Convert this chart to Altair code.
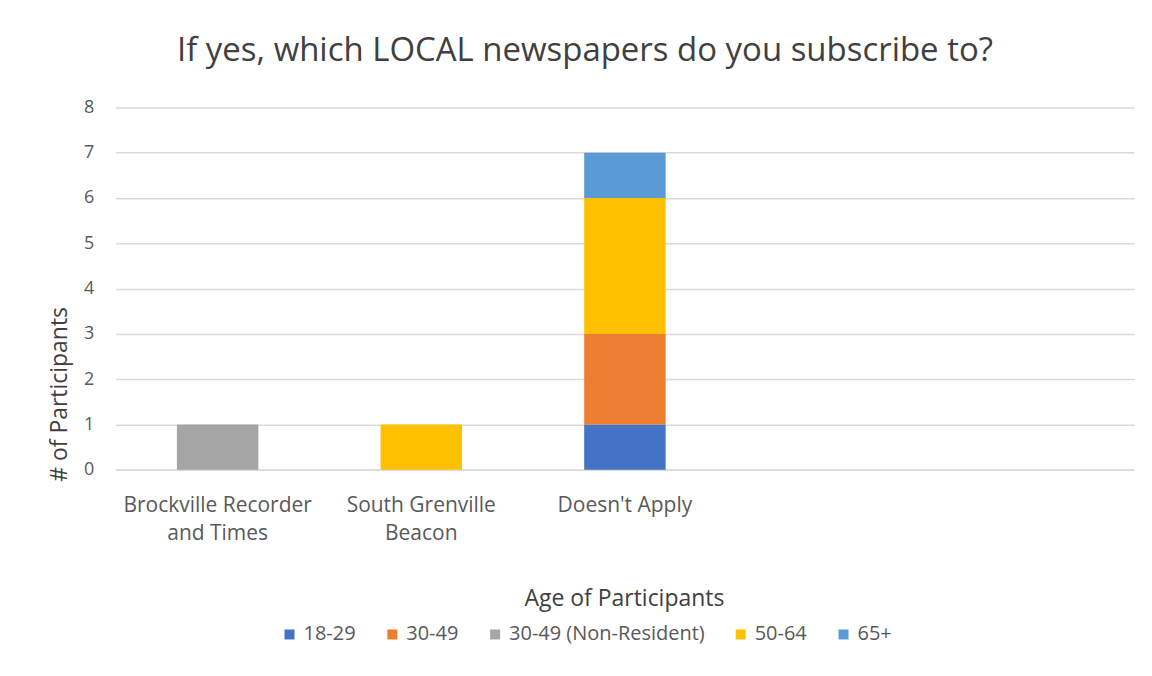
import json
import altair as alt
import pandas as pd

# ---- data ----
categories = ["Brockville Recorder and Times", "South Grenville Beacon", "Doesn't Apply"]
empty_slots = [" ", "  "]
age_groups = ["18-29", "30-49", "30-49 (Non-Resident)", "50-64", "65+"]
counts_18_29 = [0, 0, 1]
counts_30_49 = [0, 0, 2]
counts_30_49_nr = [1, 0, 0]
counts_50_64 = [0, 1, 3]
counts_65_plus = [0, 0, 1]
colors = ["#4472C4", "#ED7D31", "#A5A5A5", "#FFC000", "#5B9BD5"]
label_lines = {
    "Brockville Recorder and Times": ["Brockville Recorder", "and Times"],
    "South Grenville Beacon": ["South Grenville", "Beacon"],
}

series = [counts_18_29, counts_30_49, counts_30_49_nr, counts_50_64, counts_65_plus]
rows = []
for gi, (g, vals) in enumerate(zip(age_groups, series)):
    for c, v in zip(categories, vals):
        if v > 0:
            rows.append({"cat": c, "age": g, "count": v, "ord": gi})
df = pd.DataFrame(rows)

expr = "datum.value"
for k, lines in label_lines.items():
    expr = f"datum.value == {json.dumps(k)} ? {json.dumps(lines)} : ({expr})"

FONT = "Open Sans"

chart = alt.Chart(df).mark_bar().encode(
    x=alt.X(
        "cat:N",
        scale=alt.Scale(domain=categories + empty_slots, paddingInner=0.6, paddingOuter=0.3),
        axis=alt.Axis(
            title="Age of Participants",
            labelExpr=expr,
            labelAngle=0,
            labelFontSize=21,
            labelColor="#595959",
            labelPadding=25,
            labelLineHeight=28,
            labelLimit=400,
            ticks=False,
            domainColor="#D9D9D9",
            domainWidth=1.5,
            titleFontSize=23,
            titleFontWeight="normal",
            titleColor="#404040",
            titleX=509,
            titleY=129,
            titleAlign="center",
            titleBaseline="middle",
        ),
    ),
    y=alt.Y(
        "sum(count):Q",
        stack="zero",
        scale=alt.Scale(domain=[0, 8]),
        axis=alt.Axis(
            title="# of Participants",
            values=list(range(0, 9)),
            labelFontSize=18,
            labelColor="#595959",
            labelPadding=22,
            ticks=False,
            domain=False,
            gridColor="#D9D9D9",
            gridWidth=1.5,
            titleFontSize=23,
            titleFontWeight="normal",
            titleColor="#404040",
            titleX=-49,
            titleY=287,
            titleAngle=270,
            titleAlign="center",
            titleBaseline="alphabetic",
        ),
    ),
    color=alt.Color(
        "age:N",
        scale=alt.Scale(domain=age_groups, range=colors),
        legend=alt.Legend(
            title=None,
            orient="none",
            direction="horizontal",
            legendX=164,
            legendY=518,
            symbolType="square",
            symbolSize=100,
            symbolStrokeWidth=0,
            labelFontSize=20,
            labelColor="#595959",
            labelLimit=400,
            columnPadding=26,
            labelOffset=4,
        ),
    ),
    order=alt.Order("ord:Q", sort="ascending"),
).properties(
    width=1020,
    height=363,
    autosize=alt.AutoSizeParams(type="none"),
    padding={"left": 108, "top": 99, "right": 10, "bottom": 195},
    title=alt.TitleParams(
        "If yes, which LOCAL newspapers do you subscribe to?",
        fontSize=33,
        fontWeight="normal",
        color="#404040",
        offset=30,
        dx=-40,
        anchor="middle",
    ),
).configure(font=FONT).configure_view(stroke=None)

chart.save("out.html", embed_options={"renderer": "svg", "actions": False})
